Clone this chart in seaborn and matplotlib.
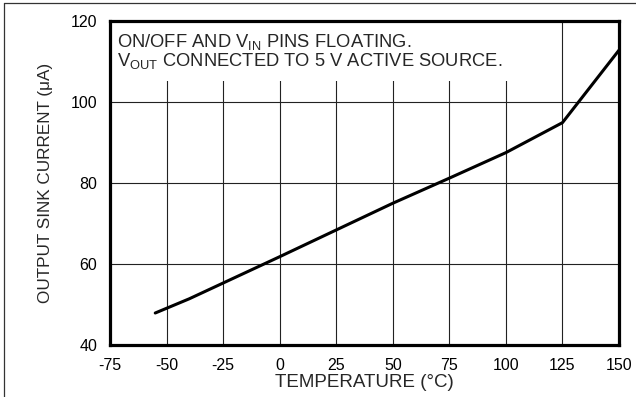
import matplotlib
matplotlib.use("Agg")
import matplotlib.pyplot as plt
import seaborn as sns
import pandas as pd
from matplotlib.lines import Line2D
from matplotlib.patches import Rectangle

# Output sink current vs temperature
temperature_c = [-55, -40, -25, 0, 25, 50, 75, 100, 125, 150]
sink_current_ua = [47.9, 51.4, 55.3, 61.8, 68.4, 75.0, 81.2, 87.5, 94.9, 112.8]

x_ticks = [-75, -50, -25, 0, 25, 50, 75, 100, 125, 150]
y_ticks = [40, 60, 80, 100, 120]

sns.set_theme(style="white")
plt.rcParams["font.family"] = ["Liberation Sans", "DejaVu Sans"]
plt.rcParams["mathtext.fontset"] = "custom"
plt.rcParams["mathtext.rm"] = "Liberation Sans"
plt.rcParams["mathtext.it"] = "Liberation Sans"
plt.rcParams["mathtext.default"] = "rm"

df = pd.DataFrame({"T": temperature_c, "I": sink_current_ua})

fig = plt.figure(figsize=(6.36, 3.97), dpi=100)
ax = fig.add_axes([110 / 636, 1 - 345 / 397, 509 / 636, 324 / 397])

ax.set_xlim(-75, 150)
ax.set_ylim(40, 120)
ax.set_xticks(x_ticks)
ax.set_yticks(y_ticks)
ax.set_xticklabels([str(v) for v in x_ticks])
ax.set_yticklabels([str(v) for v in y_ticks])
ax.tick_params(axis="x", length=0, labelsize=11.5, colors="black", pad=9)
ax.tick_params(axis="y", length=0, labelsize=11.5, colors="black", pad=9)

ax.grid(True, color="#222222", linewidth=0.8)
ax.set_axisbelow(True)

sns.lineplot(data=df, x="T", y="I", ax=ax, color="black", linewidth=2.2, zorder=4)

for s in ax.spines.values():
    s.set_visible(True)
    s.set_color("black")
    s.set_linewidth(2.3)

ax.set_xlabel("TEMPERATURE (°C)", fontsize=13.5, labelpad=1)
ax.set_ylabel("OUTPUT SINK CURRENT (μA)", fontsize=12.3, labelpad=13)

# white patch behind the condition note, hiding the grid there
ax.add_patch(Rectangle((-75, 105.3), 181, 14.7, facecolor="white",
                       edgecolor="none", zorder=1.5))
ax.text(-72, 117.3,
        "ON/OFF AND V$_{\\mathrm{IN}}$ PINS FLOATING.\nV$_{\\mathrm{OUT}}$ CONNECTED TO 5 V ACTIVE SOURCE.",
        fontsize=13.2, va="top", ha="left", linespacing=0.92, zorder=5)

# thin frame along the top and left of the figure
fig.add_artist(Line2D([4 / 636, 1], [1 - 3 / 397, 1 - 3 / 397], color="#333333", linewidth=0.9))
fig.add_artist(Line2D([4 / 636, 4 / 636], [0, 1 - 3 / 397], color="#333333", linewidth=0.9))

fig.savefig("out.png", dpi=100)
